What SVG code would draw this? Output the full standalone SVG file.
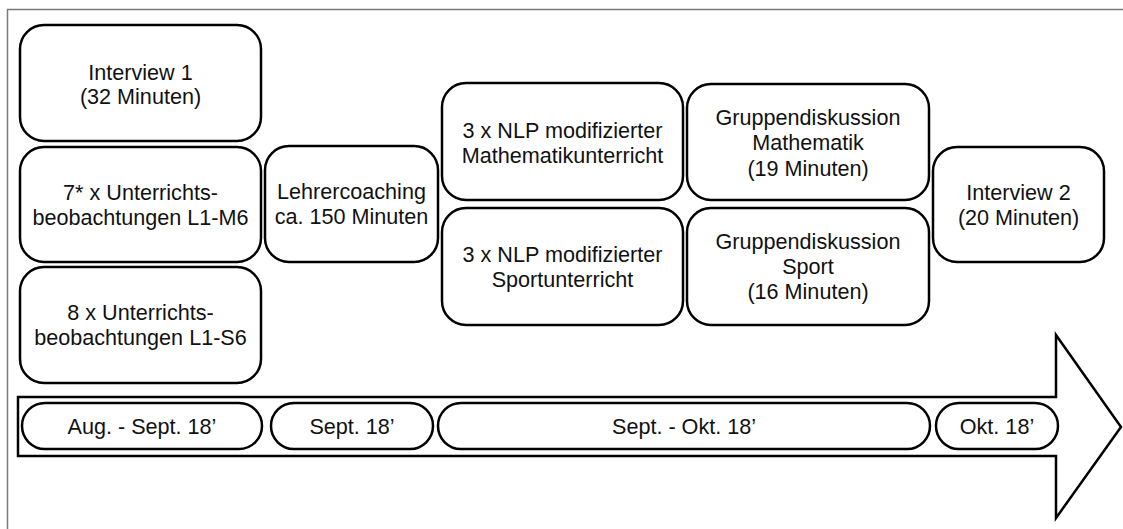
<svg xmlns="http://www.w3.org/2000/svg" width="1123" height="529" viewBox="0 0 1123 529">
<style>
.box{fill:#fff;stroke:#000;stroke-width:2.5}
.frame{fill:none;stroke:#7a7a7a;stroke-width:1.5}
text{font-family:"Liberation Sans",Arial,sans-serif;font-size:21.6px;fill:#111;text-anchor:middle}
</style>
<rect width="1123" height="529" fill="#fff"/>
<path class="frame" d="M7.5,529 L7.5,9.5 L1123,9.5"/>
<g id="timeline">
<polygon class="box" points="18,397 1056,397 1056,335 1121,427 1056,518 1056,456 18,456"/>
</g>
<g id="connectors"></g>
<g id="interview1"><rect class="box" x="20" y="25" width="241" height="116" rx="24"/><text x="140.5" y="80">Interview 1</text><text x="140.5" y="104">(32 Minuten)</text></g>
<g id="unterricht-m"><rect class="box" x="20" y="147" width="241" height="115" rx="24"/><text x="140.5" y="200">7* x Unterrichts-</text><text x="140.5" y="225">beobachtungen L1-M6</text></g>
<g id="unterricht-s"><rect class="box" x="20" y="267" width="241" height="116" rx="24"/><text x="140.5" y="320">8 x Unterrichts-</text><text x="140.5" y="345">beobachtungen L1-S6</text></g>
<g id="coaching"><rect class="box" x="265" y="146" width="173" height="116" rx="24"/><text x="351.5" y="199">Lehrercoaching</text><text x="351.5" y="224">ca. 150 Minuten</text></g>
<g id="nlp-math"><rect class="box" x="442" y="83" width="241" height="117" rx="24"/><text x="562.5" y="138">3 x NLP modifizierter</text><text x="562.5" y="163">Mathematikunterricht</text></g>
<g id="nlp-sport"><rect class="box" x="442" y="208" width="241" height="117" rx="24"/><text x="562.5" y="262">3 x NLP modifizierter</text><text x="562.5" y="287">Sportunterricht</text></g>
<g id="gd-math"><rect class="box" x="687" y="84" width="242" height="116" rx="24"/><text x="808" y="125">Gruppendiskussion</text><text x="808" y="150">Mathematik</text><text x="808" y="176">(19 Minuten)</text></g>
<g id="gd-sport"><rect class="box" x="687" y="208" width="242" height="117" rx="24"/><text x="808" y="249">Gruppendiskussion</text><text x="808" y="274">Sport</text><text x="808" y="299">(16 Minuten)</text></g>
<g id="interview2"><rect class="box" x="933" y="147" width="171" height="115" rx="24"/><text x="1018.5" y="200">Interview 2</text><text x="1018.5" y="225">(20 Minuten)</text></g>
<g id="pill1"><rect class="box" x="22" y="403" width="240" height="46" rx="23"/><text x="142" y="434">Aug. - Sept. 18’</text></g>
<g id="pill2"><rect class="box" x="271" y="403" width="162" height="46" rx="23"/><text x="352" y="434">Sept. 18’</text></g>
<g id="pill3"><rect class="box" x="438" y="403" width="492" height="46" rx="23"/><text x="684" y="434">Sept. - Okt. 18’</text></g>
<g id="pill4"><rect class="box" x="936" y="403" width="122" height="46" rx="23"/><text x="997" y="434">Okt. 18’</text></g>
</svg>
